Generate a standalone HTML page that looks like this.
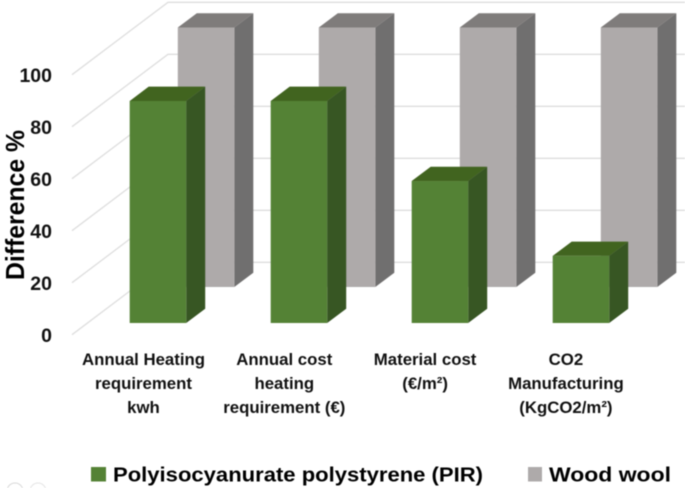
<!DOCTYPE html>
<html>
<head>
<meta charset="utf-8">
<style>
html,body{margin:0;padding:0;background:#fff;width:685px;height:488px;overflow:hidden}
svg{display:block;filter:blur(0.45px)}
text{font-family:"Liberation Sans",sans-serif;font-weight:bold;fill:#111}
</style>
</head>
<body>
<svg id="chart" xmlns="http://www.w3.org/2000/svg" width="685" height="488" viewBox="0 0 685 488">
  <g id="grid"></g>
  <g id="ticks"></g>
  <g id="bars-back"></g>
  <g id="bars-front"></g>
  <g id="cats"></g>
  <text transform="translate(24,280) rotate(-90)" font-size="26" textLength="150" lengthAdjust="spacingAndGlyphs" style="fill:#000">Difference %</text>
  <g>
    <rect x="91" y="467" width="15" height="14.5" fill="#548235"/>
    <text x="113" y="481.5" font-size="20.5" textLength="370" lengthAdjust="spacingAndGlyphs" style="fill:#000">Polyisocyanurate polystyrene (PIR)</text>
    <rect x="528" y="467" width="14" height="14.5" fill="#aeaaaa"/>
    <text x="549" y="481.5" font-size="20.5" textLength="122" lengthAdjust="spacingAndGlyphs" style="fill:#000">Wood wool</text>
  </g>
  <circle cx="15" cy="491" r="8" fill="none" stroke="#d8d8d8"/>
  <circle cx="38" cy="491" r="8" fill="none" stroke="#e4e4e4"/>
</svg>
<script>
var categories = [
  ["Annual Heating", "requirement", "kwh"],
  ["Annual cost", "heating", "requirement (€)"],
  ["Material cost", "(€/m²)"],
  ["CO2", "Manufacturing", "(KgCO2/m²)"]
];
var pirValues = [85.4, 85.4, 54.6, 25.8];
var woodWoolValues = [99.8, 99.8, 99.8, 99.8];
var tickValues = [0, 20, 40, 60, 80, 100];

var NS = "http://www.w3.org/2000/svg";
var UNIT = 2.6, DX = 19, DY = 14.3, BAR_W = 56.5;

function scaleY(base, v) { return base - v * UNIT; }
function frontX(i) { return 129.7 + 141 * i; }
function backX(i) { return 177.8 + 141 * i; }
function labelCenter(i) { return 143.5 + 140.8 * i; }

function make(tag, attrs, parent) {
  var el = document.createElementNS(NS, tag);
  for (var k in attrs) el.setAttribute(k, attrs[k]);
  parent.appendChild(el);
  return el;
}

var grid = document.getElementById("grid");
var ticks = document.getElementById("ticks");
tickValues.forEach(function (t) {
  var yFront = scaleY(334.7, t);
  var yBack = scaleY(262.3, t);
  var line = make("polyline", {
    points: "72," + yFront + " 168," + yBack + " 685," + yBack,
    fill: "none", stroke: "#dedede", "stroke-width": 1.3
  }, grid);
  
  
  var label = make("text", {
    x: 52, y: yFront + 7.3, "text-anchor": "end", "font-size": 19.5
  }, ticks);
  
  
  label.textContent = t;
});

function drawBar(parent, x, base, value, front, side, top, name) {
  var yTop = scaleY(base, value);
  var g = make("g", {}, parent);
  
  
  make("polygon", {
    points: x + "," + yTop + " " + (x + DX) + "," + (yTop - DY) + " " + (x + BAR_W + DX) + "," + (yTop - DY) + " " + (x + BAR_W) + "," + yTop,
    fill: top
  }, g);
  make("polygon", {
    points: (x + BAR_W) + "," + yTop + " " + (x + BAR_W + DX) + "," + (yTop - DY) + " " + (x + BAR_W + DX) + "," + (base - DY) + " " + (x + BAR_W) + "," + base,
    fill: side
  }, g);
  make("rect", { x: x, y: yTop, width: BAR_W, height: base - yTop, fill: front }, g);
}

var backGroup = document.getElementById("bars-back");
woodWoolValues.forEach(function (v, i) {
  drawBar(backGroup, backX(i), 287, v, "#aeaaaa", "#706f6f", "#7f7c7b", "bar-wood-wool-" + (i + 1));
});
var frontGroup = document.getElementById("bars-front");
pirValues.forEach(function (v, i) {
  drawBar(frontGroup, frontX(i), 323, v, "#548235", "#375623", "#41641f", "bar-pir-" + (i + 1));
});

var cats = document.getElementById("cats");
categories.forEach(function (lines, i) {
  lines.forEach(function (line, j) {
    var t = make("text", {
      x: labelCenter(i), y: 365 + 24 * j, "text-anchor": "middle", "font-size": 16.8
    }, cats);
    
    
    t.textContent = line;
  });
});
</script>
</body>
</html>
